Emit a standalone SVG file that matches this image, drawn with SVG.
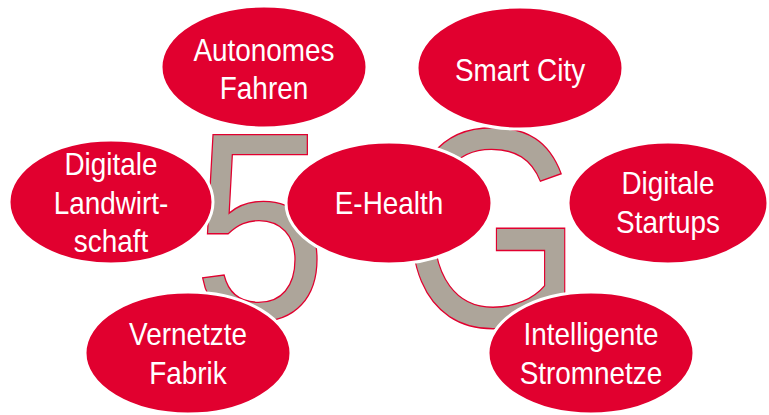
<svg xmlns="http://www.w3.org/2000/svg" width="769" height="415" viewBox="0 0 769 415">
<style>
.bg{fill:#ffffff}
.digit{font-family:"Liberation Sans",Arial,sans-serif;fill:#ADA59A;stroke:#E1002F;stroke-width:1.4}
.node ellipse{fill:#E1002F;stroke:#ffffff;stroke-width:3}
.node text{font-family:"Liberation Sans",Arial,sans-serif;font-size:31px;fill:#ffffff;text-anchor:middle}
</style>
<rect class="bg" x="0" y="0" width="769" height="415"/>
<g id="logo-5g">
  <text class="digit" font-size="268" transform="translate(193,319) scale(0.9,1)">5</text>
  <text class="digit" font-size="284" transform="translate(400,326) scale(0.825,1)">G</text>
</g>
<g id="connectors"></g>
<g id="node-autonomes" class="node">
  <ellipse cx="264" cy="67" rx="103" ry="61"/>
  <g transform="translate(264,67) scale(0.9,1)"><text x="0" y="-6">Autonomes</text><text x="0" y="32">Fahren</text></g>
</g>
<g id="node-smartcity" class="node">
  <ellipse cx="520" cy="68" rx="103" ry="61"/>
  <g transform="translate(520,68) scale(0.9,1)"><text x="0" y="13">Smart City</text></g>
</g>
<g id="node-landwirtschaft" class="node">
  <ellipse cx="111" cy="202" rx="102" ry="62"/>
  <g transform="translate(111,202) scale(0.9,1)"><text x="0" y="-27">Digitale</text><text x="0" y="11.5">Landwirt-</text><text x="0" y="50">schaft</text></g>
</g>
<g id="node-ehealth" class="node">
  <ellipse cx="389" cy="203" rx="103" ry="61"/>
  <g transform="translate(389,203) scale(0.9,1)"><text x="0" y="11">E-Health</text></g>
</g>
<g id="node-startups" class="node">
  <ellipse cx="668" cy="203" rx="100" ry="61"/>
  <g transform="translate(668,203) scale(0.9,1)"><text x="0" y="-9">Digitale</text><text x="0" y="30">Startups</text></g>
</g>
<g id="node-fabrik" class="node">
  <ellipse cx="188" cy="353" rx="103" ry="61"/>
  <g transform="translate(188,353) scale(0.9,1)"><text x="0" y="-8">Vernetzte</text><text x="0" y="31">Fabrik</text></g>
</g>
<g id="node-stromnetze" class="node">
  <ellipse cx="591" cy="353" rx="103" ry="61"/>
  <g transform="translate(591,353) scale(0.9,1)"><text x="0" y="-8">Intelligente</text><text x="0" y="31">Stromnetze</text></g>
</g>
</svg>
